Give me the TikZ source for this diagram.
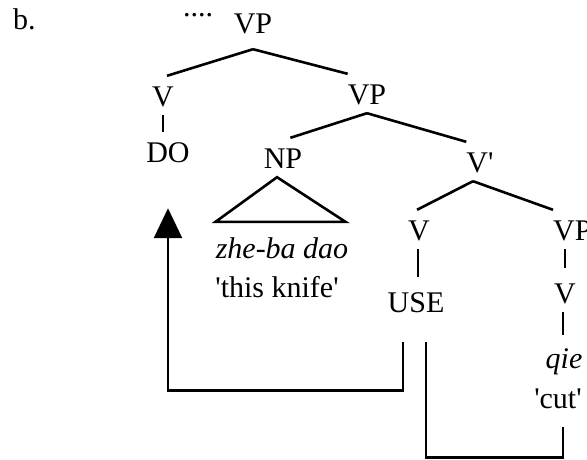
\documentclass[tikz,border=0pt]{standalone}
\usepackage{fontspec}
\setmainfont{Liberation Serif}[Ligatures=TeXOff]
\usetikzlibrary{arrows.meta}

\tikzset{
  cat/.style={font=\fontsize{30}{36}\selectfont, text height=21pt, text depth=0pt,
    inner xsep=0pt, inner ysep=9pt, anchor=base},
  branch/.style={line width=2.6pt},
  moveline/.style={line width=2.6pt},
}

\begin{document}
\begin{tikzpicture}[x=1pt,y=-1pt]
  \useasboundingbox (0,0) rectangle (587,459);

  \node[cat, anchor=base west] (lab) at (13,29) {b.};
  \node[cat, inner ysep=0pt, text height=4pt] (dots) at (198,16) {....};

  \node[cat] (vptop) at (253,33) {VP};
  \node[cat] (vdo) at (163,106) {V};
  \node[cat] (do) at (168,162) {DO};
  \node[cat] (vpmid) at (367,104) {VP};
  \node[cat] (np) at (283,168) {NP};
  \node[cat] (vbar) at (480,172) {V'};
  \node[cat] (obj) at (282,258) {\itshape zhe-ba dao};
  \node[cat] (objgl) at (277,297) {'this knife'};
  \node[cat] (vuse) at (419,240) {V};
  \node[cat] (use) at (416,312) {USE};
  \node[cat, anchor=base west] (vplow) at (553,240) {VP};
  \node[cat] (vqie) at (565,303) {V};
  \node[cat] (qie) at (564,368) {\itshape qie};
  \node[cat] (qiegl) at (558,408) {'cut'};

  % branches
  \draw[branch] ([yshift=-7pt]vptop.south) -- ([xshift=-7pt]vdo.north east);
  \draw[branch] ([yshift=-7pt]vptop.south) -- (vpmid.north west);
  \draw[branch] (vdo.south) -- (vdo.south |- do.north);
  \draw[branch] (vpmid.south) -- ([xshift=-12pt]np.north east);
  \draw[branch] (vpmid.south) -- (vbar.north west);
  \draw[branch] ([xshift=-7pt]vbar.south) -- ([xshift=-13pt]vuse.north east);
  \draw[branch] ([xshift=-7pt]vbar.south) -- (vplow.north west);
  \draw[branch] ([xshift=-6pt]np.south) -- ([yshift=6pt]obj.north west)
    -- ([yshift=6pt,xshift=-3pt]obj.north east) -- cycle;
  \draw[branch] ([xshift=-1pt]vuse.south) -- ([xshift=-1pt,yshift=5pt]vuse.south |- use.north);
  \draw[branch] (vqie.north |- vplow.south) -- ([yshift=5pt]vqie.north);
  \draw[branch] ([xshift=-2pt]vqie.south) -- ([xshift=-2pt,yshift=3pt]vqie.south |- qie.north);

  % movement paths
  \draw[moveline, -{Triangle[length=30pt,width=28pt]}]
    ([xshift=-13pt,yshift=-21pt]use.south) -- ++(0,48)
    -| ([yshift=-37pt]do.south);
  \draw[moveline] ([xshift=10pt,yshift=-21pt]use.south) -- ++(0,115)
    -| ([xshift=5pt,yshift=-10pt]qiegl.south);
\end{tikzpicture}
\end{document}
